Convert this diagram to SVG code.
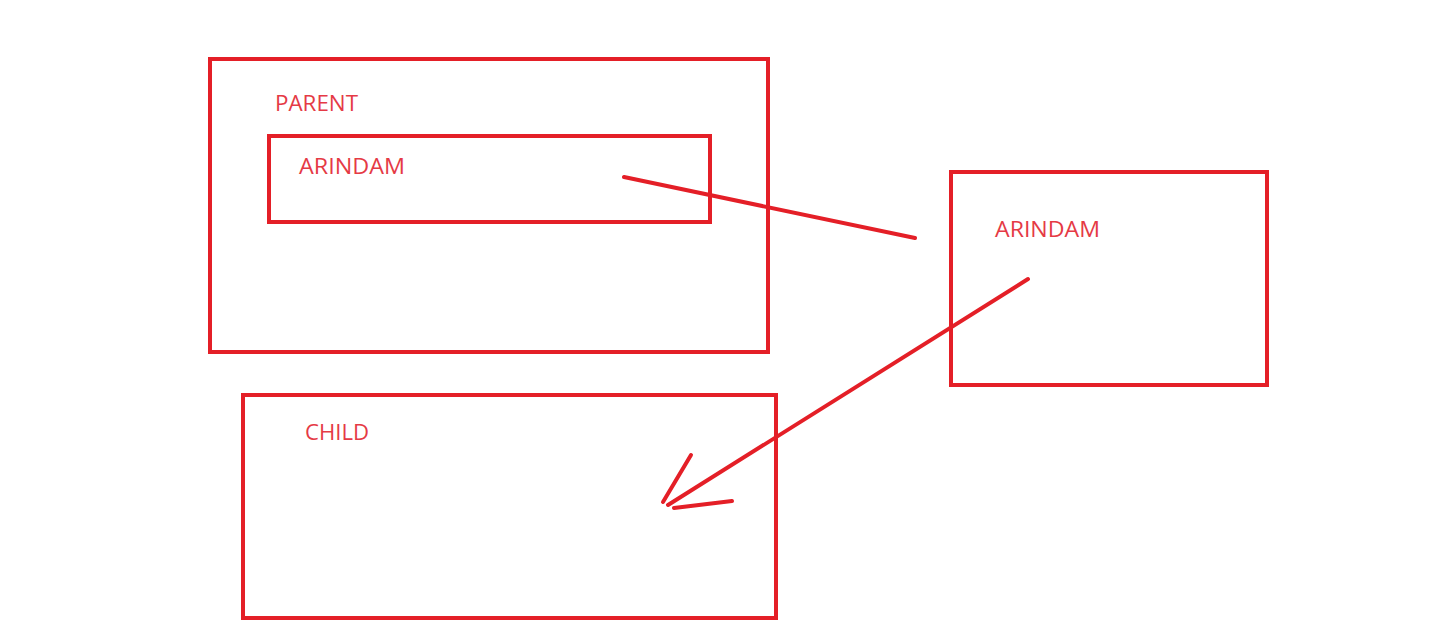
<svg xmlns="http://www.w3.org/2000/svg" width="1443" height="633" viewBox="0 0 1443 633">
<style>
.box{fill:none;stroke:#e41f27;stroke-width:4}
.lbl{fill:#e53a45;font-family:"Open Sans","Noto Sans",sans-serif;font-size:22.5px}
.ln{fill:none;stroke:#e41f27;stroke-width:4;stroke-linecap:round}
</style>
<rect width="1443" height="633" fill="#fff"/>
<g id="parent"><rect class="box" x="210" y="59" width="558" height="293"/><text class="lbl" x="275" y="111" textLength="83" lengthAdjust="spacingAndGlyphs">PARENT</text></g>
<g id="arindam-inner"><rect class="box" x="269" y="136" width="441" height="86"/><text class="lbl" x="299" y="174" textLength="106" lengthAdjust="spacingAndGlyphs">ARINDAM</text></g>
<g id="arindam-right"><rect class="box" x="951" y="172" width="316" height="213"/><text class="lbl" x="995" y="237" textLength="105" lengthAdjust="spacingAndGlyphs">ARINDAM</text></g>
<g id="child"><rect class="box" x="243" y="395" width="533" height="223"/><text class="lbl" x="305" y="440" textLength="64" lengthAdjust="spacingAndGlyphs">CHILD</text></g>
<g id="connectors">
<line class="ln" x1="624" y1="177" x2="915" y2="238"/>
<line class="ln" x1="1028" y1="279" x2="668" y2="505"/>
<line class="ln" x1="691" y1="455" x2="663" y2="502"/>
<line class="ln" x1="674" y1="508" x2="732" y2="501"/>
</g>
</svg>
